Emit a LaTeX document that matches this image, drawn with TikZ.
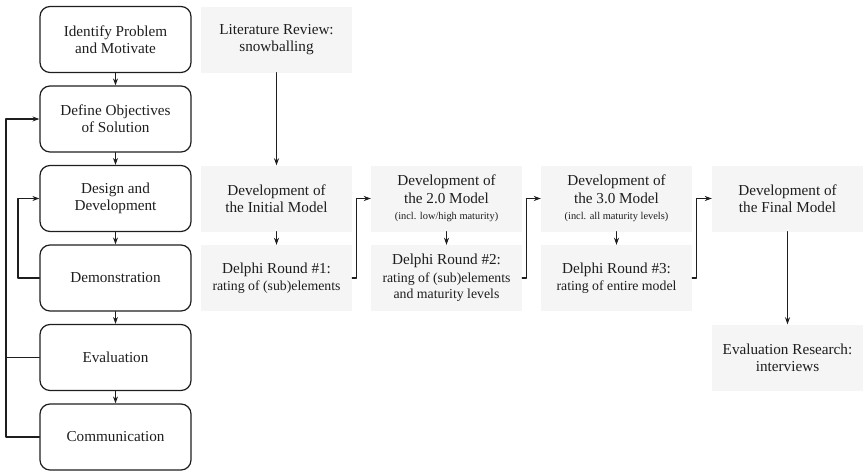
\documentclass[tikz,border=0pt]{standalone}
\usepackage{fontspec}
\setmainfont{Liberation Serif}
\usetikzlibrary{arrows.meta}
\definecolor{boxgray}{HTML}{F5F5F5}
\definecolor{inkgray}{HTML}{1E1E1E}
\newcommand{\mainsize}{\fontsize{15.2}{17.4}\selectfont}
\newcommand{\midsize}{\fontsize{13.8}{16.8}\selectfont}
\newcommand{\smallsize}{\fontsize{10.4}{16.8}\selectfont}

\begin{document}
\begin{tikzpicture}[x=1pt, y=-1pt, line cap=round, line join=round,
    phase/.style={draw=inkgray, line width=1.2pt, rounded corners=10pt, minimum width=151pt,
      minimum height=66pt, align=center, font=\mainsize, text=inkgray, inner sep=0pt},
    activity/.style={fill=boxgray, minimum width=151pt, minimum height=66pt,
      align=center, font=\mainsize, text=inkgray, inner sep=0pt},
    flow/.style={draw=inkgray, -{Stealth[length=7pt,width=5pt]}, line width=1.1pt}]
  \useasboundingbox (0,0) rectangle (863,471);

  % --- 左の列(角丸の箱) ---
  \node[phase] (identify) at (115.5,39.5) {Identify Problem\\and Motivate};
  \node[phase] (objectives) at (115.5,119) {Define Objectives\\of Solution};
  \node[phase] (design) at (115.5,198.5) {Design and\\Development};
  \node[phase] (demo) at (115.5,278) {Demonstration};
  \node[phase] (evaluation) at (115.5,357.5) {Evaluation};
  \node[phase] (communication) at (115.5,437) {Communication};

  % 上から下へ矢印
  \draw[flow] (identify) -- (objectives);
  \draw[flow] (objectives) -- (design);
  \draw[flow] (design) -- (demo);
  \draw[flow] (demo) -- (evaluation);
  \draw[flow] (evaluation) -- (communication);

  % --- 戻りの線(左端) ---
  \coordinate (outer) at (6,0);
  \coordinate (inner) at (18,0);
  \draw[flow] (communication.west) -- (communication.west -| outer) |- (objectives.west);
  \draw[draw=inkgray, line width=1.1pt] (evaluation.west) -- (evaluation.west -| outer);
  \draw[flow] (demo.west) -- (demo.west -| inner) |- (design.west);

  % --- 灰色の箱 ---
  \node[activity] (litreview) at (276.5,39.5) {Literature Review:\\snowballing};
  \node[activity] (initial) at (276.5,198.5) {Development of\\the Initial Model};
  \node[activity] (delphi1) at (276.5,278) {Delphi Round \#1:\\{\midsize rating of (sub)elements}};
  \node[activity] (model2) at (446.5,198.5) {Development of\\the 2.0 Model\\[-0.7pt]{\smallsize (incl. low/high maturity)}};
  \node[activity] (delphi2) at (446.5,278) {Delphi Round \#2:\\{\midsize rating of (sub)elements}\\[-0.5pt]{\midsize and maturity levels}};
  \node[activity] (model3) at (616.5,198.5) {Development of\\the 3.0 Model\\[-0.7pt]{\smallsize (incl. all maturity levels)}};
  \node[activity] (delphi3) at (616.5,278) {Delphi Round \#3:\\{\midsize rating of entire model}};
  \node[activity] (final) at (787.5,198.5) {Development of\\the Final Model};
  \node[activity] (evalresearch) at (787.5,357.5) {Evaluation Research:\\interviews};

  % 縦の矢印
  \draw[flow] (litreview) -- (initial);
  \draw[flow] (initial) -- (delphi1);
  \draw[flow] (model2) -- (delphi2);
  \draw[flow] (model3) -- (delphi3);
  \draw[flow] (final) -- (evalresearch);

  % --- 次の列へ(折れ線) ---
  \draw[flow] (delphi1.east) -- ++(4.5,0) |- (model2.west);
  \draw[flow] (delphi2.east) -- ++(4.5,0) |- (model3.west);
  \draw[flow] (delphi3.east) -- ++(4.5,0) |- (final.west);
\end{tikzpicture}
\end{document}
